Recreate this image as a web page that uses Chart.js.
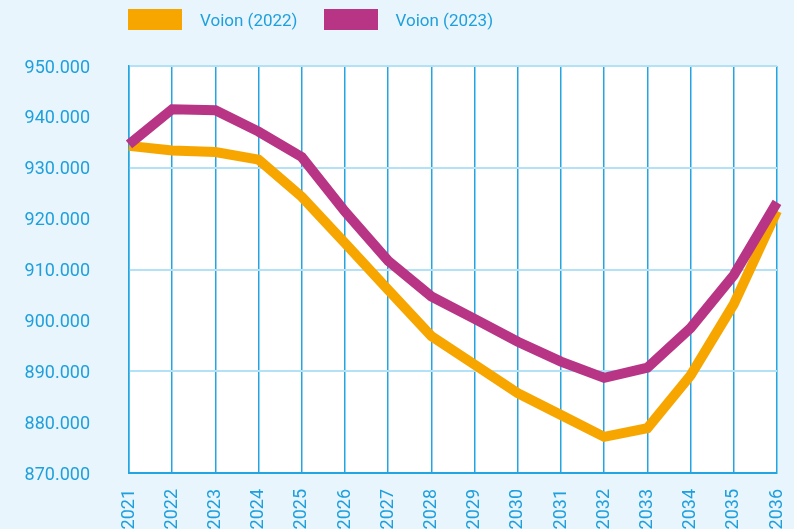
<!DOCTYPE html>
<html>
<head>
<meta charset="utf-8">
<script src="https://cdn.jsdelivr.net/npm/chart.js@4"></script>
<style>
  html, body { margin: 0; padding: 0; background: #e8f5fd; overflow: hidden; }
  #wrap { position: relative; width: 794px; height: 529px; overflow: hidden; }
  #legend { position: absolute; left: 128px; top: 9px; display: flex; font-family: Roboto, sans-serif; font-size: 17px; color: #1fa0dc; }
  .item { display: flex; align-items: center; margin-right: 26px; }
  .box { width: 54px; height: 21px; margin-right: 18px; }
</style>
</head>
<body>
<div id="wrap">
  <canvas id="canvas" width="794" height="545"></canvas>
  <div id="legend"></div>
</div>
<script>
const years = ['2021', '2022', '2023', '2024', '2025', '2026', '2027', '2028',
  '2029', '2030', '2031', '2032', '2033', '2034', '2035', '2036']
const voion2022 = [934300, 933400, 933100, 931600, 924300, 915200, 906000, 896900,
  891300, 885700, 881400, 877100, 878800, 889200, 903200, 921500]
const voion2023 = [934600, 941500, 941300, 937100, 932100, 921400, 911700, 904700,
  900300, 895800, 891900, 888700, 890700, 898500, 908900, 923200]
const seriesNames = ['Voion (2022)', 'Voion (2023)']
const seriesColors = ['#f7a600', '#b83586']

const textBlue = '#1fa0dc'
const darkGrid = '#22a5e2'
const lightGrid = '#b3e1f6'

// white plot area on the light blue page
const plotBackground = {
  id: 'plotBackground',
  beforeDraw(chart) {
    const { ctx, chartArea } = chart
    ctx.save()
    ctx.fillStyle = '#ffffff'
    ctx.fillRect(chartArea.left, chartArea.top, chartArea.right - chartArea.left, chartArea.bottom - chartArea.top)
    ctx.restore()
  }
}

const legend = document.getElementById('legend')
seriesNames.forEach((name, i) => {
  const item = document.createElement('div')
  item.className = 'item'
  item.innerHTML = `<span class="box" style="background:${seriesColors[i]}"></span><span>${name}</span>`
  legend.appendChild(item)
})

new Chart(document.getElementById('canvas'), {
  type: 'line',
  data: {
    labels: years,
    datasets: [
      { label: seriesNames[0], data: voion2022, borderColor: seriesColors[0], backgroundColor: seriesColors[0],
        borderWidth: 10, pointRadius: 0, tension: 0, order: 1 },
      { label: seriesNames[1], data: voion2023, borderColor: seriesColors[1], backgroundColor: seriesColors[1],
        borderWidth: 10, pointRadius: 0, tension: 0, order: 0 }
    ]
  },
  options: {
    responsive: false,
    animation: false,
    devicePixelRatio: 1,
    layout: { padding: { top: 66, right: 17, bottom: 0, left: 0 } },
    plugins: {
      legend: { display: false },
      tooltip: { enabled: false }
    },
    scales: {
      x: {
        offset: false,
        grid: { color: darkGrid, lineWidth: 1.5, drawTicks: false },
        border: { color: darkGrid, width: 2 },
        ticks: {
          color: textBlue, font: { family: 'Roboto', size: 18 },
          minRotation: 90, maxRotation: 90, padding: 16, autoSkip: false
        },
        afterFit(scale) {
          scale.height = 72
          scale.paddingLeft = 0
          scale.paddingRight = 0
        }
      },
      y: {
        min: 870000,
        max: 950000,
        grid: {
          color: (ctx) => ctx.index % 2 === 0 ? lightGrid : 'rgba(0,0,0,0)',
          lineWidth: 2,
          drawTicks: false
        },
        border: { color: darkGrid, width: 1.5 },
        ticks: {
          stepSize: 10000,
          color: textBlue,
          font: { family: 'Roboto', size: 18 },
          padding: 39,
          labelOffset: 2,
          callback: (v) => (v / 1000).toFixed(3)
        },
        afterFit(scale) {
          scale.width = 129
          scale.paddingTop = 0
          scale.paddingBottom = 0
        }
      }
    }
  },
  plugins: [plotBackground]
})
</script>
</body>
</html>
